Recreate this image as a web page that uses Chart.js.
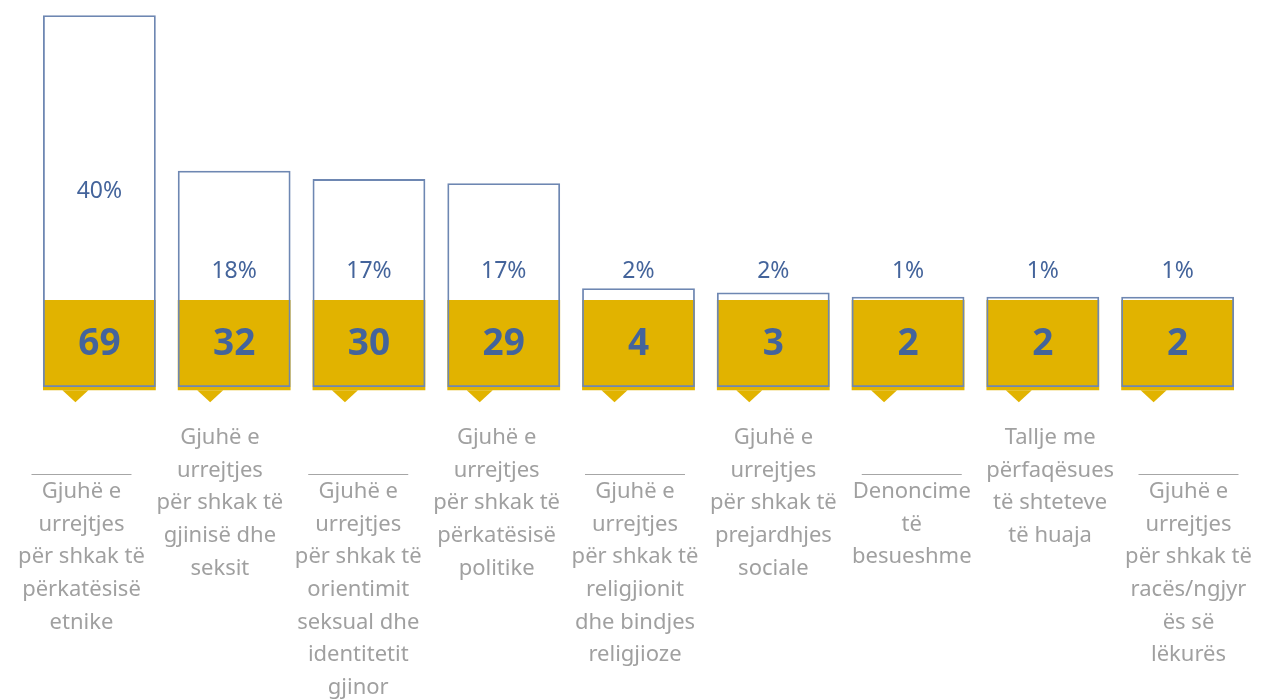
<!DOCTYPE html>
<html>
<head>
  <meta charset="utf-8" />
  <script src="https://cdn.jsdelivr.net/npm/chart.js@4.4.1/dist/chart.umd.min.js"></script>
  <style>
    body { margin:0; background:#fff; }
    #holder { width:1264px; height:700px; position:relative; }
  </style>
</head>
<body>
<div id="holder"><canvas id="chart"></canvas></div>

<script>
// data
const categories = [
  ["Gjuhë e","urrejtjes","për shkak të","përkatësisë","etnike"],
  ["Gjuhë e","urrejtjes","për shkak të","gjinisë dhe","seksit"],
  ["Gjuhë e","urrejtjes","për shkak të","orientimit","seksual dhe","identitetit","gjinor"],
  ["Gjuhë e","urrejtjes","për shkak të","përkatësisë","politike"],
  ["Gjuhë e","urrejtjes","për shkak të","religjionit","dhe bindjes","religjioze"],
  ["Gjuhë e","urrejtjes","për shkak të","prejardhjes","sociale"],
  ["Denoncime","të","besueshme"],
  ["Tallje me","përfaqësues","të shteteve","të huaja"],
  ["Gjuhë e","urrejtjes","për shkak të","racës/ngjyr","ës së","lëkurës"]
];
const counts = [69, 32, 30, 29, 4, 3, 2, 2, 2];
const percents = ["40%", "18%", "17%", "17%", "2%", "2%", "1%", "1%", "1%"];

// the gold block is a fixed-height base, the outlined bar sits on an offset
const GOLD_LOW = -0.8, GOLD_HIGH = 20.7;
const OUTLINE_OFFSET = 19.5;

const GOLD = "#E1B300";
const BLUE_LINE = "#6E87B2";
const BLUE_TEXT = "#44649B";
const GRAY = "#A0A0A0";
const FONT = "'Noto Sans', sans-serif";

const decor = {
  id: "decor",
  afterDatasetsDraw(chart) {
    const ctx = chart.ctx;
    const gold = chart.getDatasetMeta(1).data;
    const outline = chart.getDatasetMeta(0).data;
    const xs = chart.scales.x;
    const cx = xs.getPixelForValue(4);
    ctx.save();
    gold.forEach((g, i) => {
      const o = outline[i];
      const goldTop = g.y, goldBottom = g.base;
      const zero = chart.scales.y.getPixelForValue(0);

      // pointer triangle under the bar
      const tx = g.x - 24;
      ctx.fillStyle = GOLD;
      ctx.beginPath();
      ctx.moveTo(tx - 13, goldBottom);
      ctx.lineTo(tx + 13, goldBottom);
      ctx.lineTo(tx, goldBottom + 12);
      ctx.closePath();
      ctx.fill();

      // count in the gold block
      ctx.fillStyle = BLUE_TEXT;
      ctx.textAlign = "center";
      ctx.textBaseline = "middle";
      ctx.font = "bold 37px " + FONT;
      ctx.fillText(String(counts[i]), g.x, (goldTop + zero) / 2 + 1);

      // percentage
      ctx.font = "23px " + FONT;
      const white = goldTop - o.y;
      const py = white > 200 ? o.y + white * 0.62 : goldTop - 29;
      ctx.fillText(percents[i], o.x, py);

      // category label
      const lx = cx + (g.x - cx) * 1.0267 - 3.5;
      const shifted = i % 2 === 0;
      let y0 = shifted ? 492 : 438;
      if (shifted) {
        ctx.strokeStyle = "#A6A6A6";
        ctx.lineWidth = 1;
        ctx.beginPath();
        ctx.moveTo(lx - 50, 474.5);
        ctx.lineTo(lx + 50, 474.5);
        ctx.stroke();
      }
      ctx.fillStyle = GRAY;
      ctx.font = "22px " + FONT;
      categories[i].forEach((line, k) => {
        ctx.fillText(line, lx, y0 + k * 32.6);
      });
    });
    ctx.restore();
  }
};

new Chart(document.getElementById("chart"), {
  type: "bar",
  data: {
    labels: categories.map(c => c.join(" ")),
    datasets: [
      {
        label: "outline",
        data: counts.map(c => c + OUTLINE_OFFSET),
        backgroundColor: "rgba(0,0,0,0)",
        borderColor: BLUE_LINE,
        borderWidth: 1.8,
        borderSkipped: false,
        order: 0
      },
      {
        label: "gold",
        data: counts.map(() => [GOLD_LOW, GOLD_HIGH]),
        backgroundColor: GOLD,
        borderWidth: 0,
        order: 1
      }
    ]
  },
  options: {
    responsive: true,
    maintainAspectRatio: false,
    animation: false,
    grouped: false,
    barPercentage: 0.837,
    categoryPercentage: 1,
    layout: { padding: { left: 32, right: 19, top: 0, bottom: 300 } },
    plugins: { legend: { display: false }, tooltip: { enabled: false } },
    scales: {
      x: { display: false },
      y: { display: false, min: -3.1, max: 92.14 }
    }
  },
  plugins: [decor]
});
</script>
</body>
</html>
